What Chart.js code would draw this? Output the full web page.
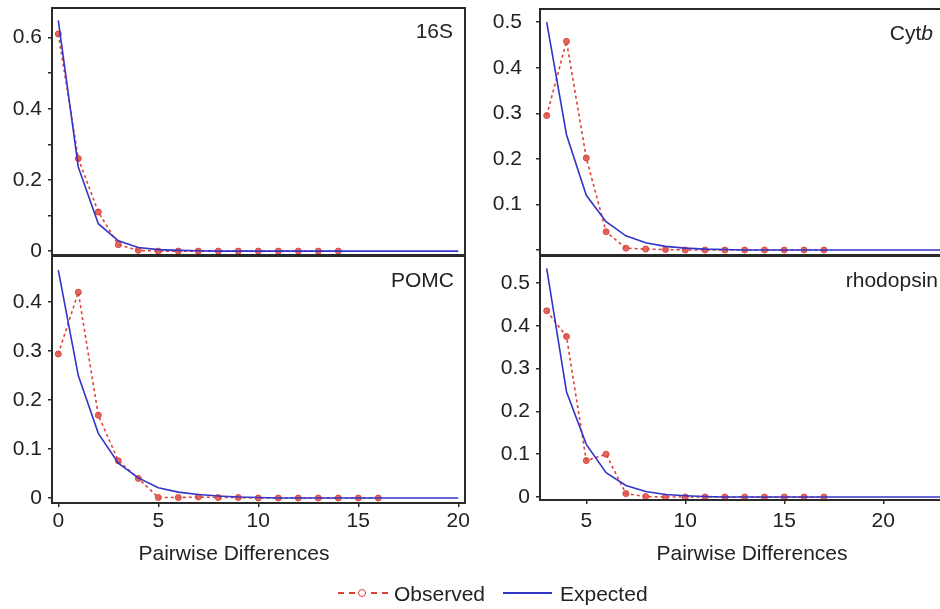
<!DOCTYPE html>
<html>
<head>
<meta charset="utf-8">
<script src="https://cdn.jsdelivr.net/npm/chart.js@4.4.1/dist/chart.umd.min.js"></script>
<style>
  html, body { margin: 0; padding: 0; background: #fff; overflow: hidden; }
  body { width: 940px; height: 609px; position: relative; font-family: "Liberation Sans", Arial, sans-serif; color: #222; }
  canvas { position: absolute; }
  .panel-label { position: absolute; font-size: 21px; line-height: 21px; text-align: right; width: 200px; }
  .axis-title { position: absolute; font-size: 21px; line-height: 21px; width: 300px; text-align: center; top: 542px; }
  .legend-text { position: absolute; font-size: 21px; line-height: 21px; top: 583px; }
  .obs-line { position: absolute; left: 338px; top: 592px; width: 50px; border-top: 2px dashed #e0413b; }
  .obs-dot { position: absolute; left: 358px; top: 589px; width: 6px; height: 6px; border: 1.5px solid #e0413b; border-radius: 50%; background: #fff; }
  .exp-line { position: absolute; left: 503px; top: 592px; width: 49px; border-top: 2px solid #3434c8; }
</style>
</head>
<body>
<canvas id="c16s" width="480" height="262" style="left:0;top:0"></canvas>
<canvas id="cPomc" width="480" height="330" style="left:0;top:250px"></canvas>
<canvas id="cCytb" width="520" height="262" style="left:470px;top:0"></canvas>
<canvas id="cRhod" width="520" height="330" style="left:470px;top:250px"></canvas>

<div class="panel-label" style="left:253px;top:20px">16S</div>
<div class="panel-label" style="left:733px;top:22px">Cyt<i>b</i></div>
<div class="panel-label" style="left:254px;top:269px">POMC</div>
<div class="panel-label" style="left:738px;top:269px">rhodopsin</div>

<div class="axis-title" style="left:84px">Pairwise Differences</div>
<div class="axis-title" style="left:602px">Pairwise Differences</div>

<div class="obs-line"></div><div class="obs-dot"></div>
<div class="legend-text" style="left:394px">Observed</div>
<div class="exp-line"></div>
<div class="legend-text" style="left:560px">Expected</div>

<script>
// x values
const xObs16S = [0, 1, 2, 3, 4, 5, 6, 7, 8, 9, 10, 11, 12, 13, 14];
const xExpLeft = [0, 1, 2, 3, 4, 5, 6, 7, 8, 9, 10, 11, 12, 13, 14, 15, 16, 17, 18, 19, 20];
const xObsPomc = [0, 1, 2, 3, 4, 5, 6, 7, 8, 9, 10, 11, 12, 13, 14, 15, 16];
const xObsRight = [3, 4, 5, 6, 7, 8, 9, 10, 11, 12, 13, 14, 15, 16, 17];
const xExpRight = [3, 4, 5, 6, 7, 8, 9, 10, 11, 12, 13, 14, 15, 16, 17, 18, 19, 20, 21, 22, 23, 24];

// series values
const obs16S = [0.61, 0.26, 0.11, 0.018, 0.002, 0, 0, 0, 0, 0, 0, 0, 0, 0, 0];
const exp16S = [0.648, 0.236, 0.077, 0.029, 0.01, 0.004, 0.002, 0.001, 0, 0, 0, 0, 0, 0, 0, 0, 0, 0, 0, 0, 0];
const obsPomc = [0.294, 0.42, 0.169, 0.076, 0.04, 0.001, 0.001, 0.002, 0.001, 0.001, 0, 0, 0, 0, 0, 0, 0];
const expPomc = [0.465, 0.25, 0.132, 0.071, 0.041, 0.021, 0.012, 0.007, 0.004, 0.002, 0.001, 0, 0, 0, 0, 0, 0, 0, 0, 0, 0];
const obsCytb = [0.295, 0.458, 0.202, 0.04, 0.004, 0.002, 0.001, 0, 0, 0, 0, 0, 0, 0, 0];
const expCytb = [0.5, 0.253, 0.12, 0.062, 0.031, 0.016, 0.008, 0.004, 0.002, 0.001, 0, 0, 0, 0, 0, 0, 0, 0, 0, 0, 0, 0];
const obsRhod = [0.435, 0.375, 0.085, 0.1, 0.008, 0.001, 0, 0, 0, 0, 0, 0, 0, 0, 0];
const expRhod = [0.534, 0.246, 0.123, 0.057, 0.027, 0.013, 0.006, 0.003, 0.001, 0, 0, 0, 0, 0, 0, 0, 0, 0, 0, 0, 0, 0];

// tick values and labels
const xTicksLeft = [0, 5, 10, 15, 20];
const xTicksRight = [5, 10, 15, 20];
const yTicks16S = [0, 0.1, 0.2, 0.3, 0.4, 0.5, 0.6];
const yLabels16S = ["0", "", "0.2", "", "0.4", "", "0.6"];
const yTicksPomc = [0, 0.05, 0.1, 0.15, 0.2, 0.25, 0.3, 0.35, 0.4, 0.45];
const yLabelsPomc = ["0", "", "0.1", "", "0.2", "", "0.3", "", "0.4", ""];
const yTicksCytb = [0, 0.1, 0.2, 0.3, 0.4, 0.5];
const yLabelsCytb = ["", "0.1", "0.2", "0.3", "0.4", "0.5"];
const yTicksRhod = [0, 0.1, 0.2, 0.3, 0.4, 0.5];
const yLabelsRhod = ["0", "0.1", "0.2", "0.3", "0.4", "0.5"];

const toPoints = (xs, ys) => xs.map((x, i) => ({ x: x, y: ys[i] }));

// frame round the plot area
const frame = {
  id: "frame",
  afterDatasetsDraw(chart) {
    const { ctx, chartArea: { left, top, width, height } } = chart;
    ctx.save();
    ctx.strokeStyle = "#2a2a2a";
    ctx.lineWidth = 2;
    ctx.strokeRect(left, top, width, height);
    ctx.restore();
  },
};

function makePanel(id, p) {
  const data = {
    datasets: [
      {
        label: "Expected",
        data: toPoints(p.xExp, p.exp),
        borderColor: "#3434c8",
        borderWidth: 1.6,
        pointRadius: 0,
        tension: 0,
        order: 0,
      },
      {
        label: "Observed",
        data: toPoints(p.xObs, p.obs),
        borderColor: "#e0413b",
        borderWidth: 1.6,
        borderDash: [3, 3],
        pointRadius: 3,
        pointBackgroundColor: "rgba(222, 80, 70, 0.85)",
        pointBorderColor: "#d8453c",
        pointBorderWidth: 1,
        tension: 0,
        order: 1,
      },
    ],
  };

  const config = {
    type: "line",
    data: data,
    plugins: [frame],
    options: {
      responsive: false,
      animation: false,
      layout: { padding: p.padding },
      plugins: { legend: { display: false }, tooltip: { enabled: false } },
      scales: {
        x: {
          type: "linear",
          display: p.showX,
          min: p.xMin,
          max: p.xMax,
          border: { display: false },
          grid: { drawOnChartArea: false, drawTicks: true, tickLength: 4, color: "#2a2a2a", lineWidth: 1.5 },
          afterBuildTicks: (s) => { s.ticks = p.xTicks.map((v) => ({ value: v })); },
          afterFit: (s) => {
            s.height = p.xHeight;
            s.paddingLeft = 0;
            s.paddingRight = 0;
          },
          ticks: {
            color: "#222",
            padding: p.xPad,
            maxRotation: 0,
            font: { family: "'Liberation Sans', Arial, sans-serif", size: 21 },
            callback: (v) => String(v),
          },
        },
        y: {
          type: "linear",
          min: p.yMin,
          max: p.yMax,
          border: { display: false },
          grid: { drawOnChartArea: false, drawTicks: true, tickLength: 4, color: "#2a2a2a", lineWidth: 1.5 },
          afterBuildTicks: (s) => { s.ticks = p.yTicks.map((v) => ({ value: v })); },
          afterFit: (s) => {
            s.width = p.yWidth;
            s.paddingTop = 0;
            s.paddingBottom = 0;
          },
          ticks: {
            color: "#222",
            padding: p.yPad,
            font: { family: "'Liberation Sans', Arial, sans-serif", size: 21 },
            callback: (v, i) => p.yLabels[i],
          },
        },
      },
    },
  };

  return new Chart(document.getElementById(id), config);
}

makePanel("c16s", {
  xObs: xObs16S, obs: obs16S, xExp: xExpLeft, exp: exp16S,
  xMin: -0.315, xMax: 20.335, xTicks: xTicksLeft, showX: false, xHeight: 0, xPad: 0,
  yMin: -0.011, yMax: 0.683, yTicks: yTicks16S, yLabels: yLabels16S, yWidth: 52, yPad: 6,
  padding: { top: 8, right: 15, bottom: 7, left: 0 },
});

makePanel("cPomc", {
  xObs: xObsPomc, obs: obsPomc, xExp: xExpLeft, exp: expPomc,
  xMin: -0.315, xMax: 20.335, xTicks: xTicksLeft, showX: true, xHeight: 77, xPad: 2,
  yMin: -0.0102, yMax: 0.494, yTicks: yTicksPomc, yLabels: yLabelsPomc, yWidth: 52, yPad: 6,
  padding: { top: 6, right: 15, bottom: 0, left: 0 },
});

makePanel("cCytb", {
  xObs: xObsRight, obs: obsCytb, xExp: xExpRight, exp: expCytb,
  xMin: 2.662, xMax: 24.38, xTicks: xTicksRight, showX: false, xHeight: 0, xPad: 0,
  yMin: -0.011, yMax: 0.529, yTicks: yTicksCytb, yLabels: yLabelsCytb, yWidth: 70, yPad: 14,
  padding: { top: 9, right: 20, bottom: 7, left: 0 },
});

makePanel("cRhod", {
  xObs: xObsRight, obs: obsRhod, xExp: xExpRight, exp: expRhod,
  xMin: 2.662, xMax: 24.38, xTicks: xTicksRight, showX: true, xHeight: 80, xPad: 5,
  yMin: -0.007, yMax: 0.563, yTicks: yTicksRhod, yLabels: yLabelsRhod, yWidth: 70, yPad: 6,
  padding: { top: 6, right: 20, bottom: 0, left: 0 },
});
</script>
</body>
</html>
